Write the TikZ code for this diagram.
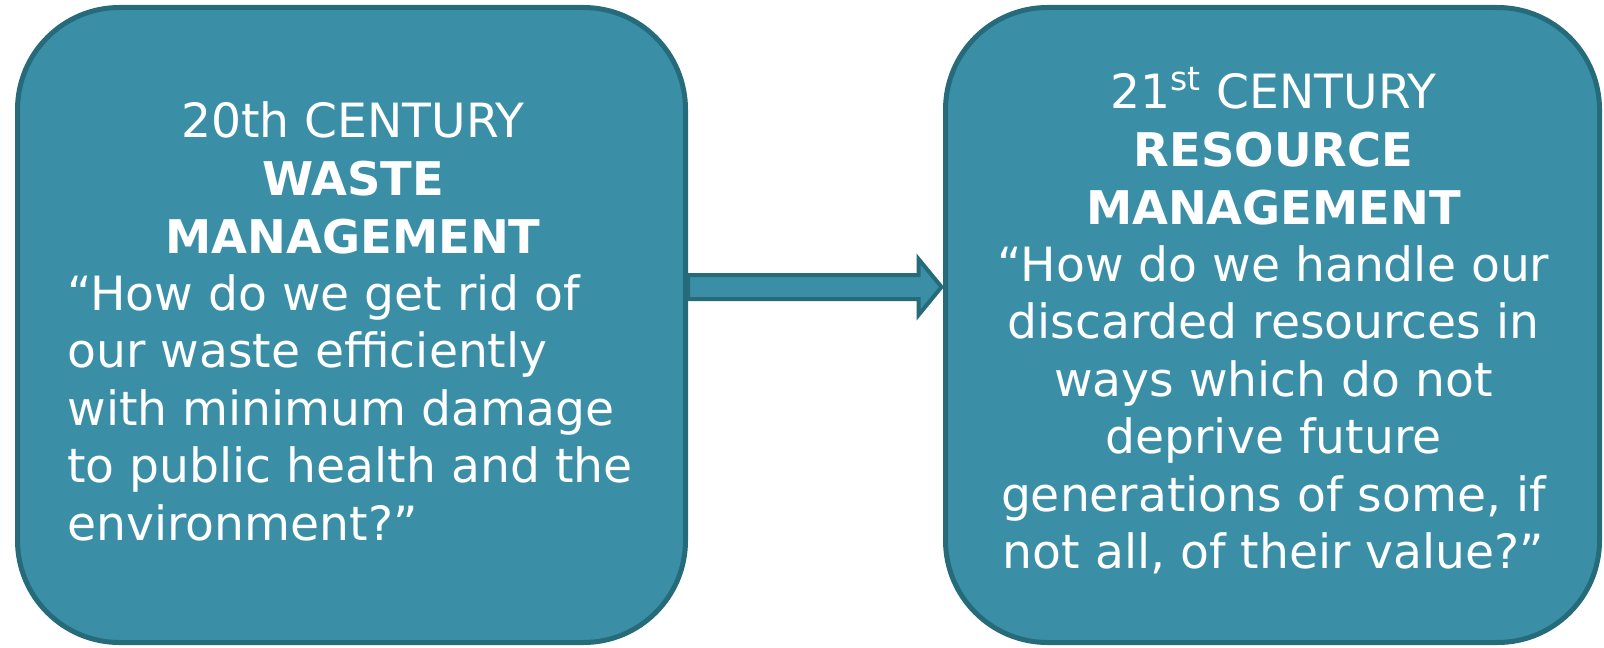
\documentclass[tikz,border=0pt]{standalone}
\usepackage{fontspec}
\setmainfont{DejaVu Sans}
\usetikzlibrary{calc}
\definecolor{boxfill}{RGB}{58,143,166}
\definecolor{boxline}{RGB}{37,107,122}
\newcommand{\bfline}[1]{{\fontsize{23.2}{29}\selectfont\bfseries #1}}
\begin{document}
\begin{tikzpicture}[x=0.5pt,y=-0.5pt,
  panel/.style={draw=boxline, fill=boxfill, line width=2.5pt, rounded corners=51pt, inner sep=0pt},
  ln/.style={text=white, inner sep=0pt, font=\fontsize{23.6}{29}\selectfont},
  arrowshape/.style={draw=boxline, fill=boxfill, line width=2pt, line join=miter}]
\useasboundingbox (0,0) rectangle (1604,647);
\node[panel, minimum width=334pt, minimum height=317.5pt] (L) at (351.5,325) {};
\node[panel, minimum width=327pt, minimum height=317.5pt] (R) at (1272.5,325) {};
% arrow
\coordinate (at) at ($(L.east)+(0,-38)$);
\coordinate (bt) at (R.west |- at);
\draw[arrowshape] ($(at)+(0,-12)$) -- ($(bt)+(-24.5,-12)$) -- ($(bt)+(-24.5,-28)$) -- ($(bt)+(-1.5,0)$) -- ($(bt)+(-24.5,28)$) -- ($(bt)+(-24.5,12)$) -- ($(at)+(0,12)$) -- cycle;
% left texts
\node[ln, anchor=base] (l1) at (353,137) {20th CENTURY};
\node[ln, anchor=base] (l2) at (353,195) {\bfline{WASTE}};
\node[ln, anchor=base] (l3) at (353,253) {\bfline{MANAGEMENT}};
\node[ln, anchor=base west] (l4) at (67,310) {“How do we get rid of};
\node[ln, anchor=base west] (l5) at (67,367) {our waste efficiently};
\node[ln, anchor=base west] (l6) at (67,425) {with minimum damage};
\node[ln, anchor=base west] (l7) at (67,482) {to public health and the};
\node[ln, anchor=base west] (l8) at (67,540) {environment?”};
% right texts
\node[ln, anchor=base] (r1) at (1273.5,109) {21\textsuperscript{st} CENTURY};
\node[ln, anchor=base] (r2) at (1273.5,166) {\bfline{RESOURCE}};
\node[ln, anchor=base] (r3) at (1273.5,224) {\bfline{MANAGEMENT}};
\node[ln, anchor=base] (r4) at (1273.5,281) {“How do we handle our};
\node[ln, anchor=base] (r5) at (1273.5,338) {discarded resources in};
\node[ln, anchor=base] (r6) at (1273.5,396) {ways which do not};
\node[ln, anchor=base] (r7) at (1273.5,453) {deprive future};
\node[ln, anchor=base] (r8) at (1273.5,511) {generations of some, if};
\node[ln, anchor=base] (r9) at (1273.5,568) {not all, of their value?”};
\end{tikzpicture}
\end{document}
